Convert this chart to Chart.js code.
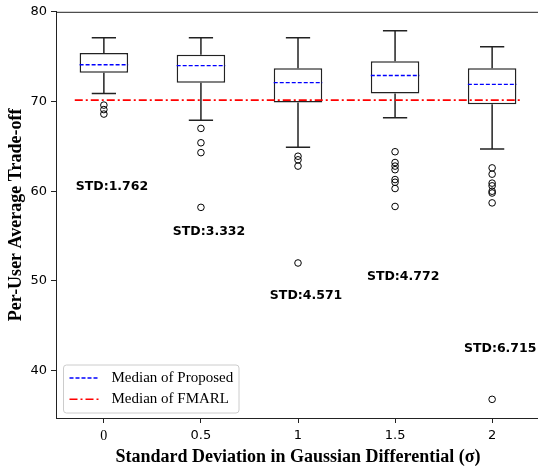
<!DOCTYPE html>
<html lang="en">
<head>
<meta charset="UTF-8">
<title>Per-User Average Trade-off</title>
<script src="https://cdn.jsdelivr.net/npm/chart.js"></script>
<style>
    html, body { margin: 0; padding: 0; overflow: hidden; background: #fff; }
    #wrap { width: 545px; height: 468px; }
</style>
</head>
<body>
<div id="wrap"><canvas id="boxChart"></canvas></div>
<script>
    // values
    const positions = [0, 0.5, 1, 1.5, 2];
    const xTickLabels = ['0', '0.5', '1', '1.5', '2'];
    const yTicks = [40, 50, 60, 70, 80];

    const whiskerLow  = [70.9, 67.9, 64.9, 68.2, 64.7];
    const q1          = [73.2, 72.1, 69.9, 70.9, 69.7];
    const medians     = [74.1, 74.0, 72.1, 72.9, 71.9];
    const q3          = [75.4, 75.2, 73.7, 74.5, 73.7];
    const whiskerHigh = [77.1, 77.1, 77.1, 77.9, 76.1];
    const outliers = [
        [69.6, 69.1, 68.6],
        [67.0, 65.4, 64.3, 58.2],
        [63.9, 63.5, 62.8, 52.0],
        [64.4, 63.2, 62.8, 62.4, 61.3, 61.0, 60.3, 58.3],
        [62.6, 61.9, 60.9, 60.6, 60.0, 59.8, 58.7, 36.8]
    ];
    const fmarlMedian = 70.15;
    const stdTexts = ['STD:1.762', 'STD:3.332', 'STD:4.571', 'STD:4.772', 'STD:6.715'];
    const stdY = [60.5, 55.5, 48.4, 50.5, 42.4];

    const boxWidth = 0.25;
    const capHalf = 0.0625;

    let boxData = positions.map((p, i) => ({ x: p, y: [q1[i], q3[i]] }));

    let whiskerData = [];
    positions.forEach((p, i) => {
        whiskerData.push({ x: p, y: q1[i] }, { x: p, y: whiskerLow[i] }, { x: p, y: null });
        whiskerData.push({ x: p - capHalf, y: whiskerLow[i] }, { x: p + capHalf, y: whiskerLow[i] }, { x: p, y: null });
        whiskerData.push({ x: p, y: q3[i] }, { x: p, y: whiskerHigh[i] }, { x: p, y: null });
        whiskerData.push({ x: p - capHalf, y: whiskerHigh[i] }, { x: p + capHalf, y: whiskerHigh[i] }, { x: p, y: null });
    });

    let medianData = [];
    positions.forEach((p, i) => {
        medianData.push({ x: p - boxWidth / 2, y: medians[i] }, { x: p + boxWidth / 2, y: medians[i] }, { x: p, y: null });
    });

    let outlierData = [];
    positions.forEach((p, i) => {
        outliers[i].forEach(v => outlierData.push({ x: p, y: v }));
    });

    let fmarlData = [{ x: -0.15, y: fmarlMedian }, { x: 2.15, y: fmarlMedian }];

    const axisColor = '#222';

    // frame, STD labels and legend
    const extras = {
        id: 'extras',
        afterDatasetsDraw(chart) {
            let ctx = chart.ctx;
            let a = chart.chartArea;
            let xs = chart.scales.x, ys = chart.scales.y;

            ctx.save();
            ctx.strokeStyle = axisColor;
            ctx.lineWidth = 1;
            ctx.strokeRect(a.left + 0.5, a.top + 0.5, a.right - a.left, a.bottom - a.top);

            ctx.fillStyle = '#000';
            ctx.font = 'bold 12.5px "DejaVu Sans"';
            ctx.textAlign = 'left';
            ctx.textBaseline = 'middle';
            positions.forEach((p, i) => {
                ctx.fillText(stdTexts[i], xs.getPixelForValue(p - 0.145), ys.getPixelForValue(stdY[i]));
            });

            // legend box
            let lx = a.left + 7.5, ly = a.bottom - 53, lw = 175.5, lh = 48;
            ctx.beginPath();
            ctx.roundRect(lx, ly, lw, lh, 3);
            ctx.fillStyle = 'rgba(255,255,255,0.8)';
            ctx.fill();
            ctx.strokeStyle = '#cccccc';
            ctx.lineWidth = 1;
            ctx.stroke();

            let items = [
                { text: 'Median of Proposed', color: '#0000ff', dash: [4, 2], width: 1.3 },
                { text: 'Median of FMARL', color: '#ff0000', dash: [8, 3, 2, 3], width: 1.5 }
            ];
            ctx.font = '15px "Liberation Serif"';
            items.forEach((it, k) => {
                let y = ly + 13 + k * 21.3;
                ctx.beginPath();
                ctx.setLineDash(it.dash);
                ctx.strokeStyle = it.color;
                ctx.lineWidth = it.width;
                ctx.moveTo(lx + 6, y);
                ctx.lineTo(lx + 36, y);
                ctx.stroke();
                ctx.setLineDash([]);
                ctx.fillStyle = '#000';
                ctx.fillText(it.text, lx + 48, y);
            });
            ctx.restore();
        }
    };

    new Chart(document.getElementById('boxChart'), {
        type: 'bar',
        data: {
            datasets: [
                {
                    type: 'line',
                    label: 'Median of FMARL',
                    data: fmarlData,
                    borderColor: '#ff0000',
                    borderWidth: 1.6,
                    borderDash: [8, 3, 2, 3],
                    pointRadius: 0,
                    order: 0
                },
                {
                    type: 'line',
                    label: 'Outliers',
                    data: outlierData,
                    showLine: false,
                    pointRadius: 3.3,
                    pointBorderWidth: 1,
                    pointBorderColor: '#000',
                    pointBackgroundColor: 'rgba(0,0,0,0)',
                    order: 1
                },
                {
                    type: 'line',
                    label: 'Median of Proposed',
                    data: medianData,
                    borderColor: '#0000ff',
                    borderWidth: 1.3,
                    borderDash: [4, 2],
                    spanGaps: false,
                    pointRadius: 0,
                    order: 2
                },
                {
                    type: 'bar',
                    label: 'Boxes',
                    data: boxData,
                    backgroundColor: '#ffffff',
                    borderColor: axisColor,
                    borderWidth: 1.5,
                    borderSkipped: false,
                    categoryPercentage: 1,
                    barPercentage: 0.5,
                    order: 3
                },
                {
                    type: 'line',
                    label: 'Whiskers',
                    data: whiskerData,
                    borderColor: axisColor,
                    borderWidth: 1.5,
                    spanGaps: false,
                    pointRadius: 0,
                    order: 4
                }
            ]
        },
        options: {
            responsive: true,
            maintainAspectRatio: false,
            animation: false,
            layout: { padding: { top: 7, right: 4, left: 0, bottom: 0 } },
            plugins: {
                legend: { display: false },
                tooltip: { enabled: false }
            },
            scales: {
                x: {
                    type: 'linear',
                    offset: false,
                    min: -0.2466,
                    max: 2.2466,
                    afterBuildTicks: s => { s.ticks = positions.map(v => ({ value: v })); },
                    afterFit: s => { s.height = 50; },
                    grid: { offset: false, drawOnChartArea: false, drawTicks: true, tickLength: 5, color: axisColor },
                    border: { display: true, color: axisColor, width: 1 },
                    ticks: {
                        color: '#000',
                        padding: 5,
                        maxRotation: 0,
                        callback: (v, i) => xTickLabels[i],
                        font: c => (c.index === 0
                            ? { family: 'Liberation Serif', size: 14 }
                            : { family: 'DejaVu Sans', size: 13 })
                    },
                    title: {
                        display: true,
                        text: 'Standard Deviation in Gaussian Differential (σ)',
                        color: '#000',
                        font: { family: 'Liberation Serif', size: 18, weight: 'bold' },
                        padding: { top: 0, bottom: 0 }
                    }
                },
                y: {
                    min: 34.72,
                    max: 80,
                    afterBuildTicks: s => { s.ticks = yTicks.map(v => ({ value: v })); },
                    afterFit: s => { s.width = 56; },
                    grid: { drawOnChartArea: false, drawTicks: true, tickLength: 5, color: axisColor },
                    border: { display: true, color: axisColor, width: 1 },
                    ticks: {
                        color: '#000',
                        padding: 4,
                        font: { family: 'DejaVu Sans', size: 13 }
                    },
                    title: {
                        display: true,
                        text: 'Per-User Average Trade-off',
                        color: '#000',
                        font: { family: 'Liberation Serif', size: 18, weight: 'bold' },
                        padding: { top: 6, bottom: 0 }
                    }
                }
            }
        },
        plugins: [extras]
    });
</script>
</body>
</html>
